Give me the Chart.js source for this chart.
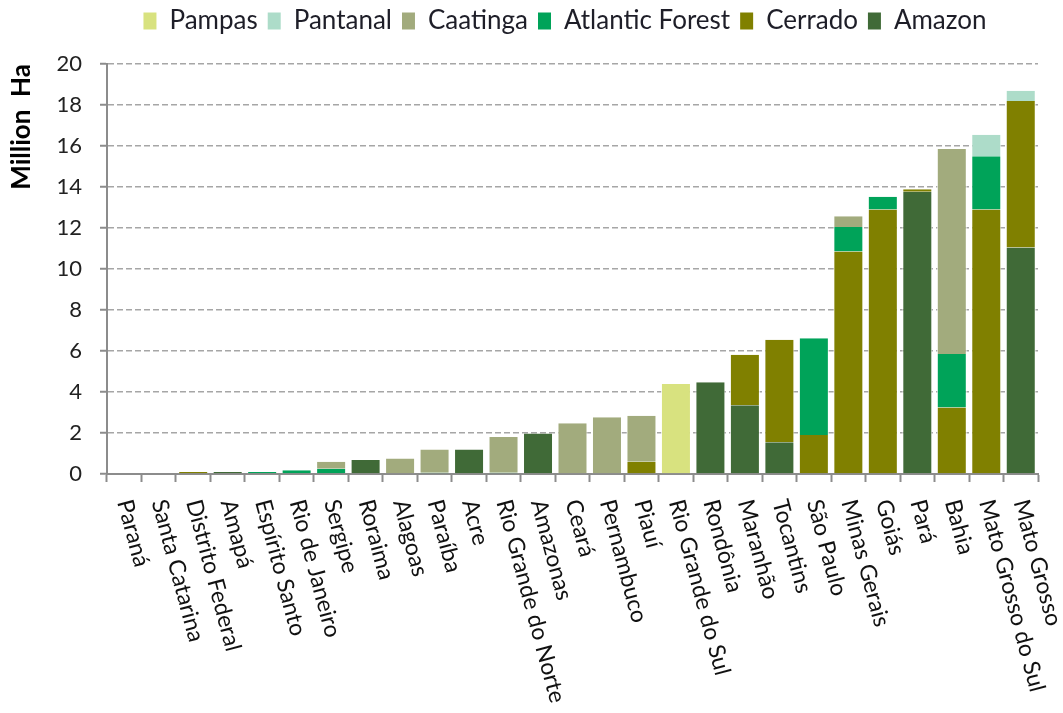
<!DOCTYPE html>
<html>
<head>
<meta charset="utf-8">
<script src="https://cdn.jsdelivr.net/npm/chart.js@4.4.1/dist/chart.umd.min.js"></script>
<style>
  html, body { margin: 0; padding: 0; background: #fff; }
  #wrap { width: 1063px; height: 713px; }
</style>
</head>
<body>
<div id="wrap"><canvas id="chart" width="1063" height="713"></canvas></div>
<script>
const states = ["Paraná", "Santa Catarina", "Distrito Federal", "Amapá", "Espírito Santo",
    "Rio de Janeiro", "Sergipe", "Roraima", "Alagoas", "Paraíba", "Acre",
    "Rio Grande do Norte", "Amazonas", "Ceará", "Pernambuco", "Piauí",
    "Rio Grande do Sul", "Rondônia", "Maranhão", "Tocantins", "São Paulo",
    "Minas Gerais", "Goiás", "Pará", "Bahia", "Mato Grosso do Sul", "Mato Grosso"];

// million ha per biome, same order as states
const amazon   = [0, 0, 0, 0.1, 0, 0, 0, 0.68, 0, 0, 1.2, 0, 1.98, 0, 0, 0, 0, 4.47, 3.35, 1.55, 0, 0, 0, 13.77, 0, 0, 11.05];
const cerrado  = [0, 0, 0.1, 0, 0, 0, 0, 0, 0, 0, 0, 0, 0, 0, 0, 0.6, 0, 0, 2.47, 5.0, 1.9, 10.85, 12.9, 0.12, 3.25, 12.9, 7.15];
const atlantic = [0, 0, 0, 0, 0.1, 0.18, 0.26, 0, 0, 0.06, 0, 0.06, 0, 0, 0, 0, 0, 0, 0, 0, 4.72, 1.2, 0.62, 0, 2.6, 2.6, 0];
const caatinga = [0, 0, 0, 0, 0, 0, 0.34, 0, 0.76, 1.14, 0, 1.74, 0, 2.47, 2.77, 2.24, 0, 0, 0, 0, 0, 0.52, 0, 0, 10.0, 0, 0];
const pantanal = [0, 0, 0, 0, 0, 0, 0, 0, 0, 0, 0, 0, 0, 0, 0, 0, 0, 0, 0, 0, 0, 0, 0, 0, 0, 1.05, 0.5];
const pampas   = [0, 0, 0, 0, 0, 0, 0, 0, 0, 0, 0, 0, 0, 0, 0, 0, 4.39, 0, 0, 0, 0, 0, 0, 0, 0, 0, 0];

const yTicks = [0, 2, 4, 6, 8, 10, 12, 14, 16, 18, 20];

const FONT = "Lato";

function biome(label, data, color) {
    return {
        label: label,
        data: data,
        backgroundColor: color,
        borderColor: "rgba(255,255,255,0.85)",
        // white gaps between columns only, so thin slivers stay visible
        borderWidth: { left: 1, right: 1, top: 0, bottom: 0 },
        borderSkipped: false,
        barPercentage: 1,
        categoryPercentage: 0.87
    };
}

// rotated state names, reading downwards like the original
const slantLabels = {
    id: "slantLabels",
    afterDraw(chart) {
        const ctx = chart.ctx;
        const x = chart.scales.x;
        ctx.save();
        ctx.font = "23px " + FONT;
        ctx.fillStyle = "#111";
        ctx.textAlign = "left";
        ctx.textBaseline = "middle";
        states.forEach((name, i) => {
            const px = x.getPixelForValue(i);
            ctx.save();
            ctx.translate(px, x.top + 26);
            ctx.rotate(75 * Math.PI / 180);
            ctx.fillText(name, 0, 0);
            ctx.restore();
        });
        ctx.restore();
    }
};

// legend: fixed height so the plot starts lower, and nudged right
const legendPlace = {
    id: "legendPlace",
    beforeInit(chart) {
        const fit = chart.legend.fit;
        chart.legend.fit = function () {
            fit.call(this);
            this.height = 66;
        };
    },
    afterLayout(chart) {
        chart.legend.left += 92;
    }
};

new Chart(document.getElementById("chart"), {
    type: "bar",
    data: {
        labels: states,
        datasets: [
            biome("Amazon", amazon, "#406a37"),
            biome("Cerrado", cerrado, "#808000"),
            biome("Atlantic Forest", atlantic, "#00a359"),
            biome("Caatinga", caatinga, "#a2ab7d"),
            biome("Pantanal", pantanal, "#addcc9"),
            biome("Pampas", pampas, "#d8e27f")
        ]
    },
    options: {
        responsive: false,
        animation: false,
        layout: { padding: { top: -2, right: 25, bottom: 0, left: 0 } },
        plugins: {
            tooltip: { enabled: false },
            legend: {
                position: "top",
                reverse: true,
                labels: {
                    font: { family: FONT, size: 26 },
                    color: "#1e1e28",
                    boxWidth: 13,
                    boxHeight: 17,
                    padding: 10,
                    generateLabels(chart) {
                        const items = Chart.defaults.plugins.legend.labels.generateLabels(chart);
                        items.forEach(it => { it.lineWidth = 0; });
                        return items;
                    }
                }
            }
        },
        scales: {
            x: {
                stacked: true,
                offset: true,
                grid: {
                    offset: true,
                    drawOnChartArea: false,
                    tickLength: 8,
                    tickColor: "#8c8c8c",
                    tickWidth: 2
                },
                border: { color: "#8c8c8c", width: 2 },
                ticks: { display: false },
                afterFit(scale) { scale.height = 713 - 474; }
            },
            y: {
                stacked: true,
                min: 0,
                max: 20,
                afterBuildTicks(scale) { scale.ticks = yTicks.map(v => ({ value: v })); },
                grid: {
                    color: "#a6a6a6",
                    lineWidth: 1.5,
                    tickLength: 7,
                    tickColor: "#8c8c8c",
                    tickWidth: 2
                },
                border: { color: "#8c8c8c", width: 2, dash: [6, 3] },
                ticks: {
                    font: { family: FONT, size: 22 },
                    color: "#222",
                    padding: 18
                },
                title: {
                    display: true,
                    text: "Million  Ha",
                    align: "end",
                    font: { family: FONT, size: 26, weight: "bold" },
                    color: "#000",
                    padding: { top: 6, bottom: 0 }
                },
                afterFit(scale) { scale.width = 107; }
            }
        }
    },
    plugins: [slantLabels, legendPlace]
});
</script>
</body>
</html>
